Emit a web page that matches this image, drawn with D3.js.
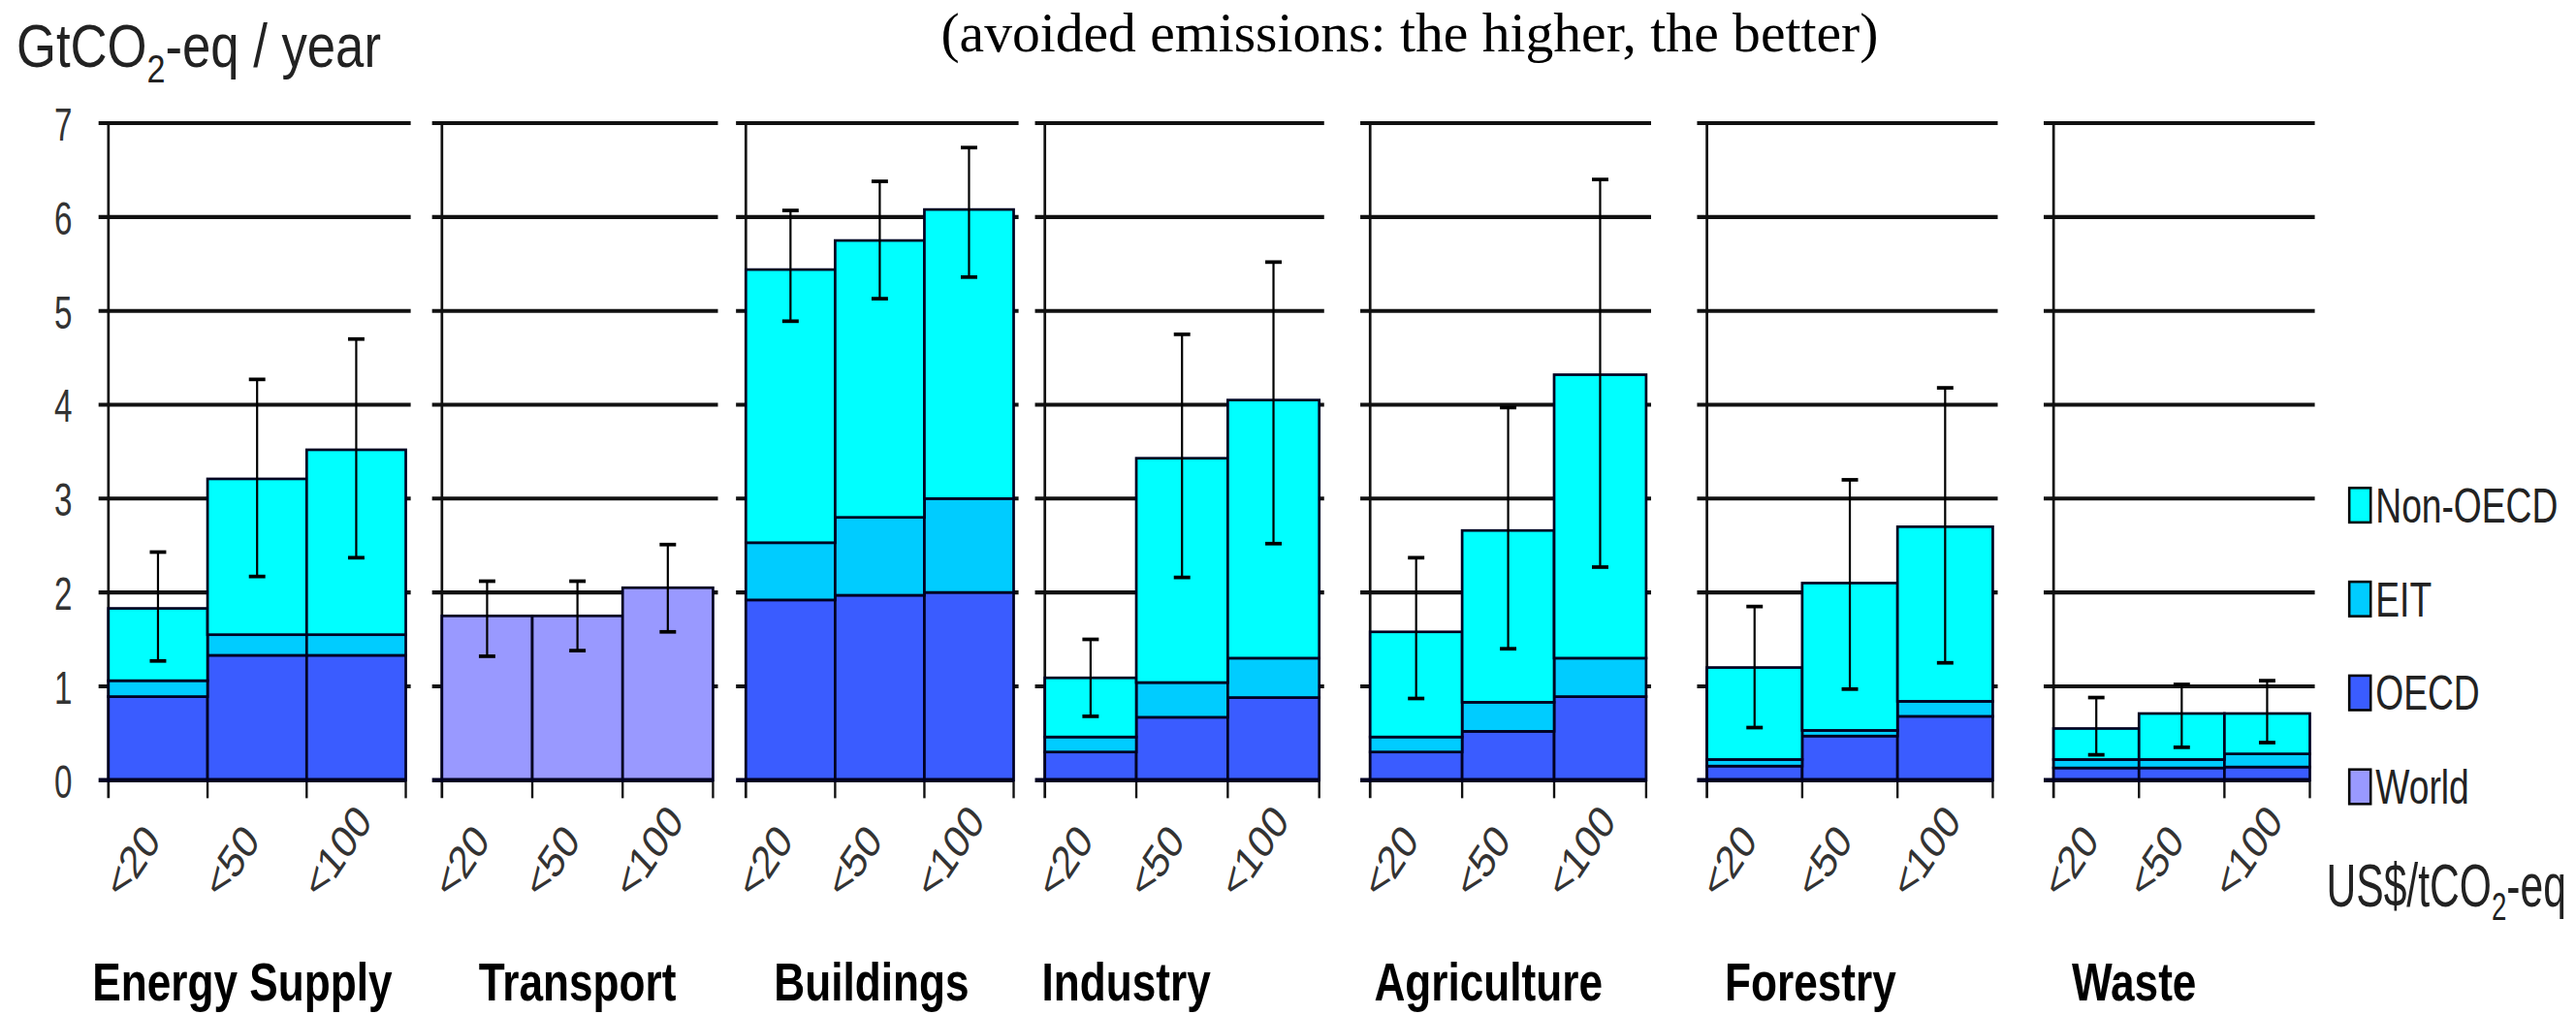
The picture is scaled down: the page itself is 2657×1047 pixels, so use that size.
<!DOCTYPE html>
<html>
<head>
<meta charset="utf-8">
<script src="https://cdn.jsdelivr.net/npm/d3@7"></script>
<style>
  html, body { margin: 0; padding: 0; background: #fff; }
  svg { display: block; }
</style>
</head>
<body>
<svg id="chart"></svg>
<script>
// sectors and carbon price levels
var categories = ["Energy Supply", "Transport", "Buildings", "Industry", "Agriculture", "Forestry", "Waste"];
var priceLevels = ["<20", "<50", "<100"];
var legendSeries = ["Non-OECD", "EIT", "OECD", "World"];
var yTicks = [0, 1, 2, 3, 4, 5, 6, 7];

// GtCO2-eq / year, one row per sector, one value per price level
var oecd    = [[0.89, 1.33, 1.33], [0, 0, 0], [1.92, 1.97, 2.00], [0.30, 0.67, 0.88], [0.30, 0.52, 0.89], [0.15, 0.47, 0.68], [0.13, 0.13, 0.14]];
var eit     = [[0.17, 0.22, 0.22], [0, 0, 0], [0.61, 0.83, 1.00], [0.16, 0.37, 0.42], [0.16, 0.31, 0.41], [0.07, 0.06, 0.16], [0.09, 0.09, 0.14]];
var nonOecd = [[0.77, 1.66, 1.97], [0, 0, 0], [2.91, 2.95, 3.08], [0.63, 2.39, 2.75], [1.12, 1.83, 3.02], [0.98, 1.57, 1.86], [0.33, 0.49, 0.43]];
var world   = [[0, 0, 0], [1.75, 1.75, 2.05], [0, 0, 0], [0, 0, 0], [0, 0, 0], [0, 0, 0], [0, 0, 0]];
var errLow  = [[1.27, 2.17, 2.37], [1.32, 1.38, 1.58], [4.89, 5.13, 5.36], [0.68, 2.16, 2.52], [0.87, 1.40, 2.27], [0.56, 0.97, 1.25], [0.27, 0.35, 0.40]];
var errHigh = [[2.43, 4.27, 4.70], [2.12, 2.12, 2.51], [6.07, 6.38, 6.74], [1.50, 4.75, 5.52], [2.37, 3.97, 6.40], [1.85, 3.20, 4.18], [0.88, 1.02, 1.06]];

// layout (drawing units, the svg is scaled up to the window)
var W = 1568, H = 618;
var panelLeft  = [66, 269, 454, 636, 834, 1039, 1250];
var panelRight = [247, 434, 617, 803, 1002, 1213, 1406];
var labelShift = [-9, 0, -5, -34, -12, -24, -29];

var colors = { "OECD": "#3a5cff", "EIT": "#00ccff", "Non-OECD": "#00ffff", "World": "#9999ff" };
var keys = ["OECD", "EIT", "Non-OECD", "World"];
var sans = "'Liberation Sans', Arial, sans-serif";

var svg = d3.select("#chart")
  .attr("width", 2657)
  .attr("height", 1047)
  .attr("viewBox", "0 0 " + W + " " + H)
  .attr("preserveAspectRatio", "none");

var y = d3.scaleLinear().domain([0, 7]).range([475, 75]);

// squeezed text: a g that is scaled in x only
function squeezed(x, yy, sx) {
  return svg.append("g")
    .attr("transform", "translate(" + x + "," + yy + ") scale(" + sx + ",1)")
    .append("text")
    .attr("font-family", sans)
    .attr("fill", "#000");
}

// title, font size fitted to the width it has in the reference
var title = svg.append("text")
  .attr("x", 858)
  .attr("y", 31)
  .attr("text-anchor", "middle")
  .attr("font-family", "'Liberation Serif', 'Times New Roman', Times, serif")
  .attr("font-size", 30)
  .text("(avoided emissions: the higher, the better)");
var tw = title.node().getComputedTextLength();
title.attr("font-size", Math.min(34, 30 * 630 / tw));

// y axis label
var yl = squeezed(10, 41, 0.84).attr("font-size", 37).attr("fill", "#222");
yl.append("tspan").text("GtCO");
yl.append("tspan").attr("font-size", 24).attr("dy", 9).text("2");
yl.append("tspan").attr("dy", -9).text("-eq / year");

// y tick labels on the first panel
svg.append("g")
  .attr("transform", "translate(44,0)")
  .call(d3.axisLeft(y).tickValues(yTicks).tickFormat(d3.format("d")).tickSize(0).tickPadding(0))
  .call(function (g) { g.select(".domain").remove(); })
  .selectAll("text")
  .attr("font-family", sans)
  .attr("font-size", 28)
  .attr("fill", "#333")
  .attr("x", 0)
  .attr("dy", "0.36em")
  .attr("transform", "scale(0.7,1)");

categories.forEach(function (cat, i) {
  var x = d3.scaleBand().domain(priceLevels).range([panelLeft[i], panelRight[i]]);
  var g = svg.append("g").attr("class", "panel");

  // gridlines
  g.selectAll("line.grid")
    .data(yTicks.filter(function (v) { return v > 0; }))
    .enter().append("line")
    .attr("x1", panelLeft[i] - 6)
    .attr("x2", panelRight[i] + 3)
    .attr("y1", function (v) { return y(v); })
    .attr("y2", function (v) { return y(v); })
    .attr("stroke", "#111")
    .attr("stroke-width", 2.4);

  // axis line and category ticks
  g.append("line")
    .attr("x1", panelLeft[i]).attr("x2", panelLeft[i])
    .attr("y1", y(7)).attr("y2", y(0) + 11)
    .attr("stroke", "#111").attr("stroke-width", 1.6);
  g.selectAll("line.ctick")
    .data(priceLevels.map(function (p) { return x(p) + x.bandwidth(); }))
    .enter().append("line")
    .attr("x1", function (d) { return d; }).attr("x2", function (d) { return d; })
    .attr("y1", y(0)).attr("y2", y(0) + 11)
    .attr("stroke", "#111").attr("stroke-width", 1.4);

  // stacked bars
  var rows = priceLevels.map(function (p, j) {
    return { level: p, "OECD": oecd[i][j], "EIT": eit[i][j], "Non-OECD": nonOecd[i][j], "World": world[i][j],
             lo: errLow[i][j], hi: errHigh[i][j] };
  });
  var stacked = d3.stack().keys(keys)(rows);
  stacked.forEach(function (layer) {
    g.selectAll(null)
      .data(layer.filter(function (d) { return d[1] - d[0] > 0; }))
      .enter().append("rect")
      .attr("x", function (d) { return x(d.data.level); })
      .attr("width", x.bandwidth())
      .attr("y", function (d) { return y(d[1]); })
      .attr("height", function (d) { return y(d[0]) - y(d[1]); })
      .attr("fill", colors[layer.key])
      .attr("stroke", "#000022")
      .attr("stroke-width", 1.6);
  });

  // baseline
  g.append("line")
    .attr("x1", panelLeft[i] - 6).attr("x2", panelRight[i])
    .attr("y1", y(0)).attr("y2", y(0))
    .attr("stroke", "#000022").attr("stroke-width", 2.6);

  // error bars
  var eb = g.selectAll("g.err").data(rows).enter().append("g")
    .attr("transform", function (d) { return "translate(" + (x(d.level) + x.bandwidth() / 2) + ",0)"; });
  eb.append("line")
    .attr("y1", function (d) { return y(d.lo); })
    .attr("y2", function (d) { return y(d.hi); })
    .attr("stroke", "#000").attr("stroke-width", 1.3);
  ["lo", "hi"].forEach(function (k) {
    eb.append("line")
      .attr("x1", -5).attr("x2", 5)
      .attr("y1", function (d) { return y(d[k]); })
      .attr("y2", function (d) { return y(d[k]); })
      .attr("stroke", "#000").attr("stroke-width", 2.2);
  });

  // rotated price labels
  priceLevels.forEach(function (p) {
    svg.append("g")
      .attr("transform", "translate(" + (x(p) + x.bandwidth() / 2 - 22) + ",549) scale(0.8,1) rotate(-50)")
      .append("text")
      .attr("font-family", sans)
      .attr("font-size", 28)
      .attr("fill", "#333")
      .text(p);
  });

  // sector label
  squeezed((panelLeft[i] + panelRight[i]) / 2 + labelShift[i], 609, 0.79)
    .attr("text-anchor", "middle")
    .attr("font-size", 33)
    .attr("font-weight", "bold")
    .text(cat);
});

// legend
legendSeries.forEach(function (s, k) {
  var cy = y(3 - k) + 4;
  svg.append("rect")
    .attr("x", 1430).attr("y", cy - 10.5)
    .attr("width", 13).attr("height", 21)
    .attr("fill", colors[s])
    .attr("stroke", "#000").attr("stroke-width", 1.5);
  squeezed(1446, cy + 10.5, 0.757)
    .attr("font-size", 29)
    .attr("fill", "#222")
    .text(s);
});

// unit label
var ul = squeezed(1416, 552, 0.68).attr("font-size", 37).attr("fill", "#222");
ul.append("tspan").text("US$/tCO");
ul.append("tspan").attr("font-size", 24).attr("dy", 8).text("2");
ul.append("tspan").attr("dy", -8).text("-eq");
</script>
</body>
</html>
